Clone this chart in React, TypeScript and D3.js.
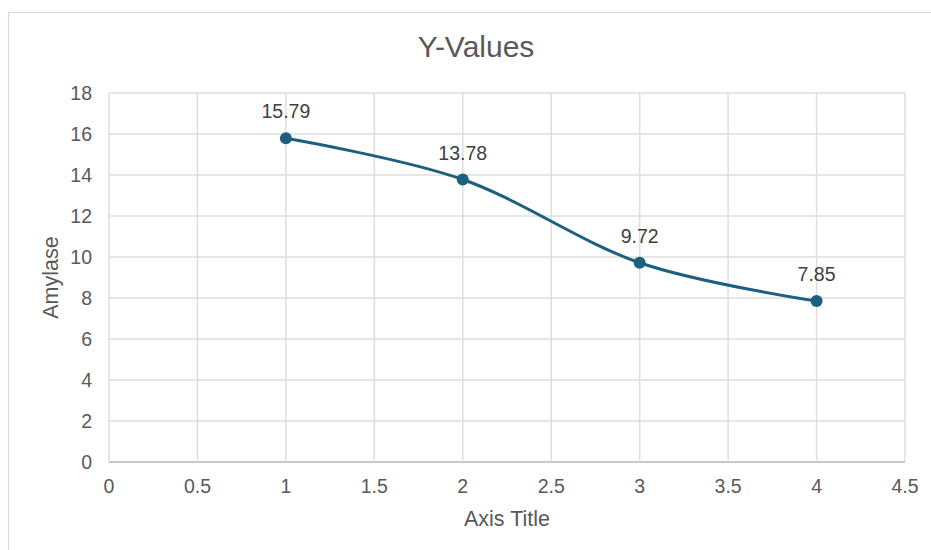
import { useEffect } from 'react'
import * as d3 from 'd3'

const xValues = [1, 2, 3, 4]
const yValues = [15.79, 13.78, 9.72, 7.85]
const xTicks = [0, 0.5, 1, 1.5, 2, 2.5, 3, 3.5, 4, 4.5]
const yTicks = [0, 2, 4, 6, 8, 10, 12, 14, 16, 18]

const W = 931
const H = 550
const margin = { top: 93, right: 26, bottom: 88, left: 109 }
const font = '"Liberation Sans", Arial, Helvetica, sans-serif'
const textColor = '#595959'
const lineColor = '#1d5f80'

export default function App() {
  useEffect(() => {
    document.body.style.margin = '0'
  }, [])

  const x = d3.scaleLinear().domain([0, 4.5]).range([margin.left, W - margin.right])
  const y = d3.scaleLinear().domain([0, 18]).range([H - margin.bottom, margin.top])

  const points = xValues.map((v, i) => ({ x: v, y: yValues[i] }))
  const line = d3.line<{ x: number; y: number }>()
    .x(d => x(d.x))
    .y(d => y(d.y))
    .curve(d3.curveCatmullRom.alpha(0))

  const [x0, x1] = x.range()
  const [y0, y1] = y.range()

  return (
    <svg width={W} height={H} style={{ display: 'block', fontFamily: font }}>
      <rect x={0} y={0} width={W} height={H} fill="#fff" />
      <rect x={8.5} y={12.5} width={950} height={580} fill="#fff" stroke="#d9d9d9" strokeWidth={1.2} />

      {/* Title */}
      <text x={476} y={57} textAnchor="middle" fontSize={30} fill={textColor}>Y-Values</text>

      {/* Grid */}
      {yTicks.map(t => (
        <line key={`gy${t}`} x1={x0} x2={x1} y1={y(t)} y2={y(t)}
          stroke={t === 0 ? '#c8c8c8' : '#dedede'} strokeWidth={t === 0 ? 2 : 1.5} />
      ))}
      {xTicks.map(t => (
        <line key={`gx${t}`} x1={x(t)} x2={x(t)} y1={y0} y2={y1}
          stroke="#dedede" strokeWidth={1.5} />
      ))}

      {/* Y tick labels */}
      {yTicks.map(t => (
        <text key={`ty${t}`} x={x0 - 17} y={y(t) + 7} textAnchor="end"
          fontSize={19.5} fill={textColor}>{t}</text>
      ))}
      {/* X tick labels */}
      {xTicks.map(t => (
        <text key={`tx${t}`} x={x(t)} y={y0 + 31} textAnchor="middle"
          fontSize={19.5} fill={textColor}>{t}</text>
      ))}

      {/* Axis titles */}
      <text x={(x0 + x1) / 2} y={526} textAnchor="middle" fontSize={21.5} fill={textColor}>Axis Title</text>
      <text transform={`translate(58,${(y0 + y1) / 2}) rotate(-90)`} textAnchor="middle"
        fontSize={21.5} fill={textColor}>Amylase</text>

      {/* Series */}
      <path d={line(points) || ''} fill="none" stroke={lineColor} strokeWidth={3} />
      {points.map(p => (
        <circle key={`p${p.x}`} cx={x(p.x)} cy={y(p.y)} r={6} fill={lineColor} />
      ))}
      {points.map(p => (
        <text key={`l${p.x}`} x={x(p.x)} y={y(p.y) - 20} textAnchor="middle"
          fontSize={19.5} fill="#404040">{p.y.toFixed(2)}</text>
      ))}
    </svg>
  )
}
